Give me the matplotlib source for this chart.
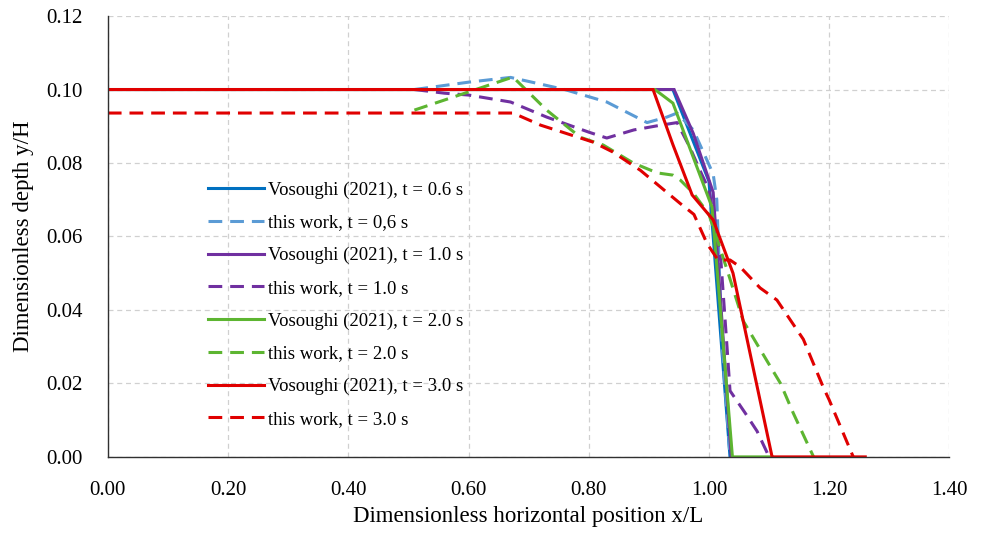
import matplotlib
matplotlib.use("Agg")
import matplotlib.pyplot as plt

plt.rcParams['font.family'] = ['Liberation Serif', 'DejaVu Serif']

# Vosoughi (2021) reference solutions
x_v06 = [0.0, 0.94, 1.0, 1.035]
y_v06 = [0.100, 0.100, 0.075, 0.0]
x_v10 = [0.0, 0.942, 0.974, 1.007, 1.037]
y_v10 = [0.100, 0.100, 0.088, 0.072, 0.0]
x_v20 = [0.0, 0.91, 0.94, 1.005, 1.039, 1.105]
y_v20 = [0.100, 0.100, 0.0963, 0.068, 0.0, 0.0]
x_v30 = [0.0, 0.907, 0.94, 0.972, 1.007, 1.04, 1.105, 1.26]
y_v30 = [0.100, 0.100, 0.085, 0.0713, 0.0645, 0.050, 0.0, 0.0]

# this work
x_w06 = [0.51, 0.60, 0.67, 0.76, 0.83, 0.897, 0.93, 0.947, 0.974, 1.007, 1.013, 1.022, 1.035]
y_w06 = [0.100, 0.102, 0.1033, 0.100, 0.0966, 0.091, 0.0925, 0.0936, 0.089, 0.077, 0.070, 0.030, 0.0]
x_w10 = [0.51, 0.56, 0.60, 0.67, 0.73, 0.80, 0.83, 0.875, 0.92, 0.947, 0.969, 0.985, 1.0, 1.02, 1.03, 1.035, 1.06, 1.08, 1.10]
y_w10 = [0.100, 0.099, 0.0985, 0.0966, 0.0925, 0.0884, 0.0868, 0.089, 0.0903, 0.091, 0.084, 0.078, 0.0727, 0.053, 0.030, 0.018, 0.012, 0.007, 0.0]
x_w20 = [0.51, 0.674, 0.73, 0.786, 0.824, 0.874, 0.914, 0.94, 0.952, 0.974, 1.0, 1.03, 1.057, 1.097, 1.119, 1.14, 1.174]
y_w20 = [0.0944, 0.1034, 0.0944, 0.087, 0.0849, 0.080, 0.0773, 0.0767, 0.0754, 0.0718, 0.066, 0.051, 0.037, 0.026, 0.020, 0.012, 0.0]
x_w30 = [0.0, 0.674, 0.72, 0.807, 0.84, 0.886, 0.952, 0.975, 0.997, 1.015, 1.035, 1.052, 1.085, 1.113, 1.157, 1.19, 1.20, 1.24]
y_w30 = [0.0936, 0.0936, 0.0903, 0.0857, 0.083, 0.078, 0.069, 0.066, 0.058, 0.0536, 0.0536, 0.0517, 0.046, 0.0427, 0.032, 0.019, 0.0155, 0.0]

labels = ["Vosoughi (2021), t = 0.6 s", "this work, t = 0,6 s",
          "Vosoughi (2021), t = 1.0 s", "this work, t = 1.0 s",
          "Vosoughi (2021), t = 2.0 s", "this work, t = 2.0 s",
          "Vosoughi (2021), t = 3.0 s", "this work, t = 3.0 s"]

x_ticks = [0.0, 0.2, 0.4, 0.6, 0.8, 1.0, 1.2, 1.4]
y_ticks = [0.0, 0.02, 0.04, 0.06, 0.08, 0.10, 0.12]

fig = plt.figure(figsize=(9.89, 5.35), dpi=100)
ax = fig.add_axes([0.109, 0.146, 0.851, 0.824])

lw = 2.2
dash = (0, (4.5, 2.6))
series = [
    (x_v06, y_v06, '#0070C0', '-'),
    (x_w06, y_w06, '#5B9BD5', dash),
    (x_v10, y_v10, '#7030A0', '-'),
    (x_w10, y_w10, '#7030A0', dash),
    (x_v20, y_v20, '#5DB531', '-'),
    (x_w20, y_w20, '#5DB531', dash),
    (x_v30, y_v30, '#E00000', '-'),
    (x_w30, y_w30, '#E00000', dash),
]
for (xs, ys, c, ls), lab in zip(series, labels):
    ax.plot(xs, ys, color=c, linestyle=ls, linewidth=lw, label=lab,
            solid_joinstyle='miter')

ax.set_xlim(0, 1.4)
ax.set_ylim(0, 0.12)
ax.set_xticks(x_ticks)
ax.set_yticks(y_ticks)
ax.set_xticklabels([f"{v:.2f}" for v in x_ticks], fontsize=15)
ax.set_yticklabels([f"{v:.2f}" for v in y_ticks], fontsize=15)
ax.tick_params(axis='y', length=0, pad=18)
ax.tick_params(axis='x', length=0, pad=17)
ax.grid(True, color='#d0d0d0', linestyle=(0, (4, 3)), linewidth=0.9)
ax.set_axisbelow(True)
for s in ['top', 'right']:
    ax.spines[s].set_visible(False)
for s in ['left', 'bottom']:
    ax.spines[s].set_color('#303030')
    ax.spines[s].set_linewidth(1.0)

ax.set_xlabel("Dimensionless horizontal position x/L", fontsize=16.5, labelpad=5)
ax.set_ylabel("Dimensionless depth y/H", fontsize=16.5, labelpad=9)

ax.legend(loc='upper left', bbox_to_anchor=(0.119, 0.625), frameon=False,
          fontsize=13.5, handlelength=3.0, handletextpad=0.2,
          labelspacing=0.83, borderaxespad=0, borderpad=0)

fig.savefig("out.png", dpi=100)
